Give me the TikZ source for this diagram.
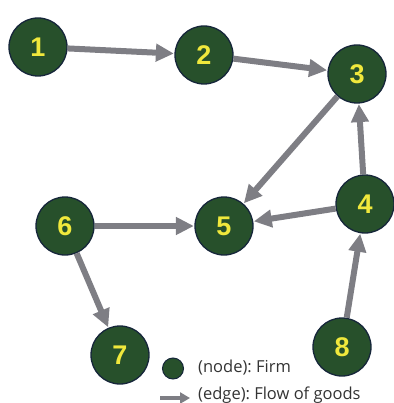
\documentclass[tikz,border=0pt]{standalone}
\usepackage{fontspec}
\setmainfont{Liberation Sans}
\newfontfamily\legfont{Open Sans}
\usetikzlibrary{arrows.meta}
\definecolor{firm}{HTML}{27502B}
\definecolor{firmline}{HTML}{16263A}
\definecolor{numcol}{HTML}{F0E83C}
\definecolor{edgecol}{HTML}{7E7E84}
\definecolor{legtext}{HTML}{333333}
\tikzset{
  x=1pt, y=-1pt,
  firmnode/.style={circle, draw=firmline, line width=1.3pt, fill=firm, minimum size=58pt, inner sep=0pt,
    text=numcol, font=\fontsize{27}{27}\selectfont\bfseries},
  flow/.style={draw=edgecol, line width=6pt, -{Triangle[length=18pt,width=17pt]}, shorten >=0.5pt},
  legnode/.style={circle, draw=firmline, line width=1pt, fill=firm, minimum size=21pt, inner sep=0pt},
  legtxt/.style={anchor=base west, text=legtext, font=\legfont\fontsize{16.5}{16.5}\selectfont\frenchspacing, inner sep=0pt},
}
\begin{document}
\begin{tikzpicture}
\useasboundingbox (0,0) rectangle (393,403);
\node[firmnode] (n1) at (38,47) {1};
\node[firmnode] (n2) at (204,55) {2};
\node[firmnode] (n3) at (357,74) {3};
\node[firmnode] (n4) at (365,204) {4};
\node[firmnode] (n5) at (224,226) {5};
\node[firmnode] (n6) at (65,226) {6};
\node[firmnode] (n7) at (120,355) {7};
\node[firmnode] (n8) at (342,347) {8};
\draw[flow] (n1) -- (n2);
\draw[flow] (n2) -- (n3);
\draw[flow] (n3) -- (n5);
\draw[flow] (n4) -- (n3);
\draw[flow] (n4) -- (n5);
\draw[flow] (n6) -- (n5);
\draw[flow] (n6) -- (n7);
\draw[flow] (n8) -- (n4);
\node[legnode] (lg) at (173,368.5) {};
\node[legtxt] (lt1) at (198,372) {(node): Firm};
\coordinate (la) at (160,398);
\coordinate (lb) at (190,398);
\draw[draw=edgecol, line width=4pt, -{Triangle[length=10pt,width=11pt]}] (la) -- (lb);
\node[legtxt] (lt2) at (198,399) {(edge): Flow of goods};
\end{tikzpicture}
\end{document}
